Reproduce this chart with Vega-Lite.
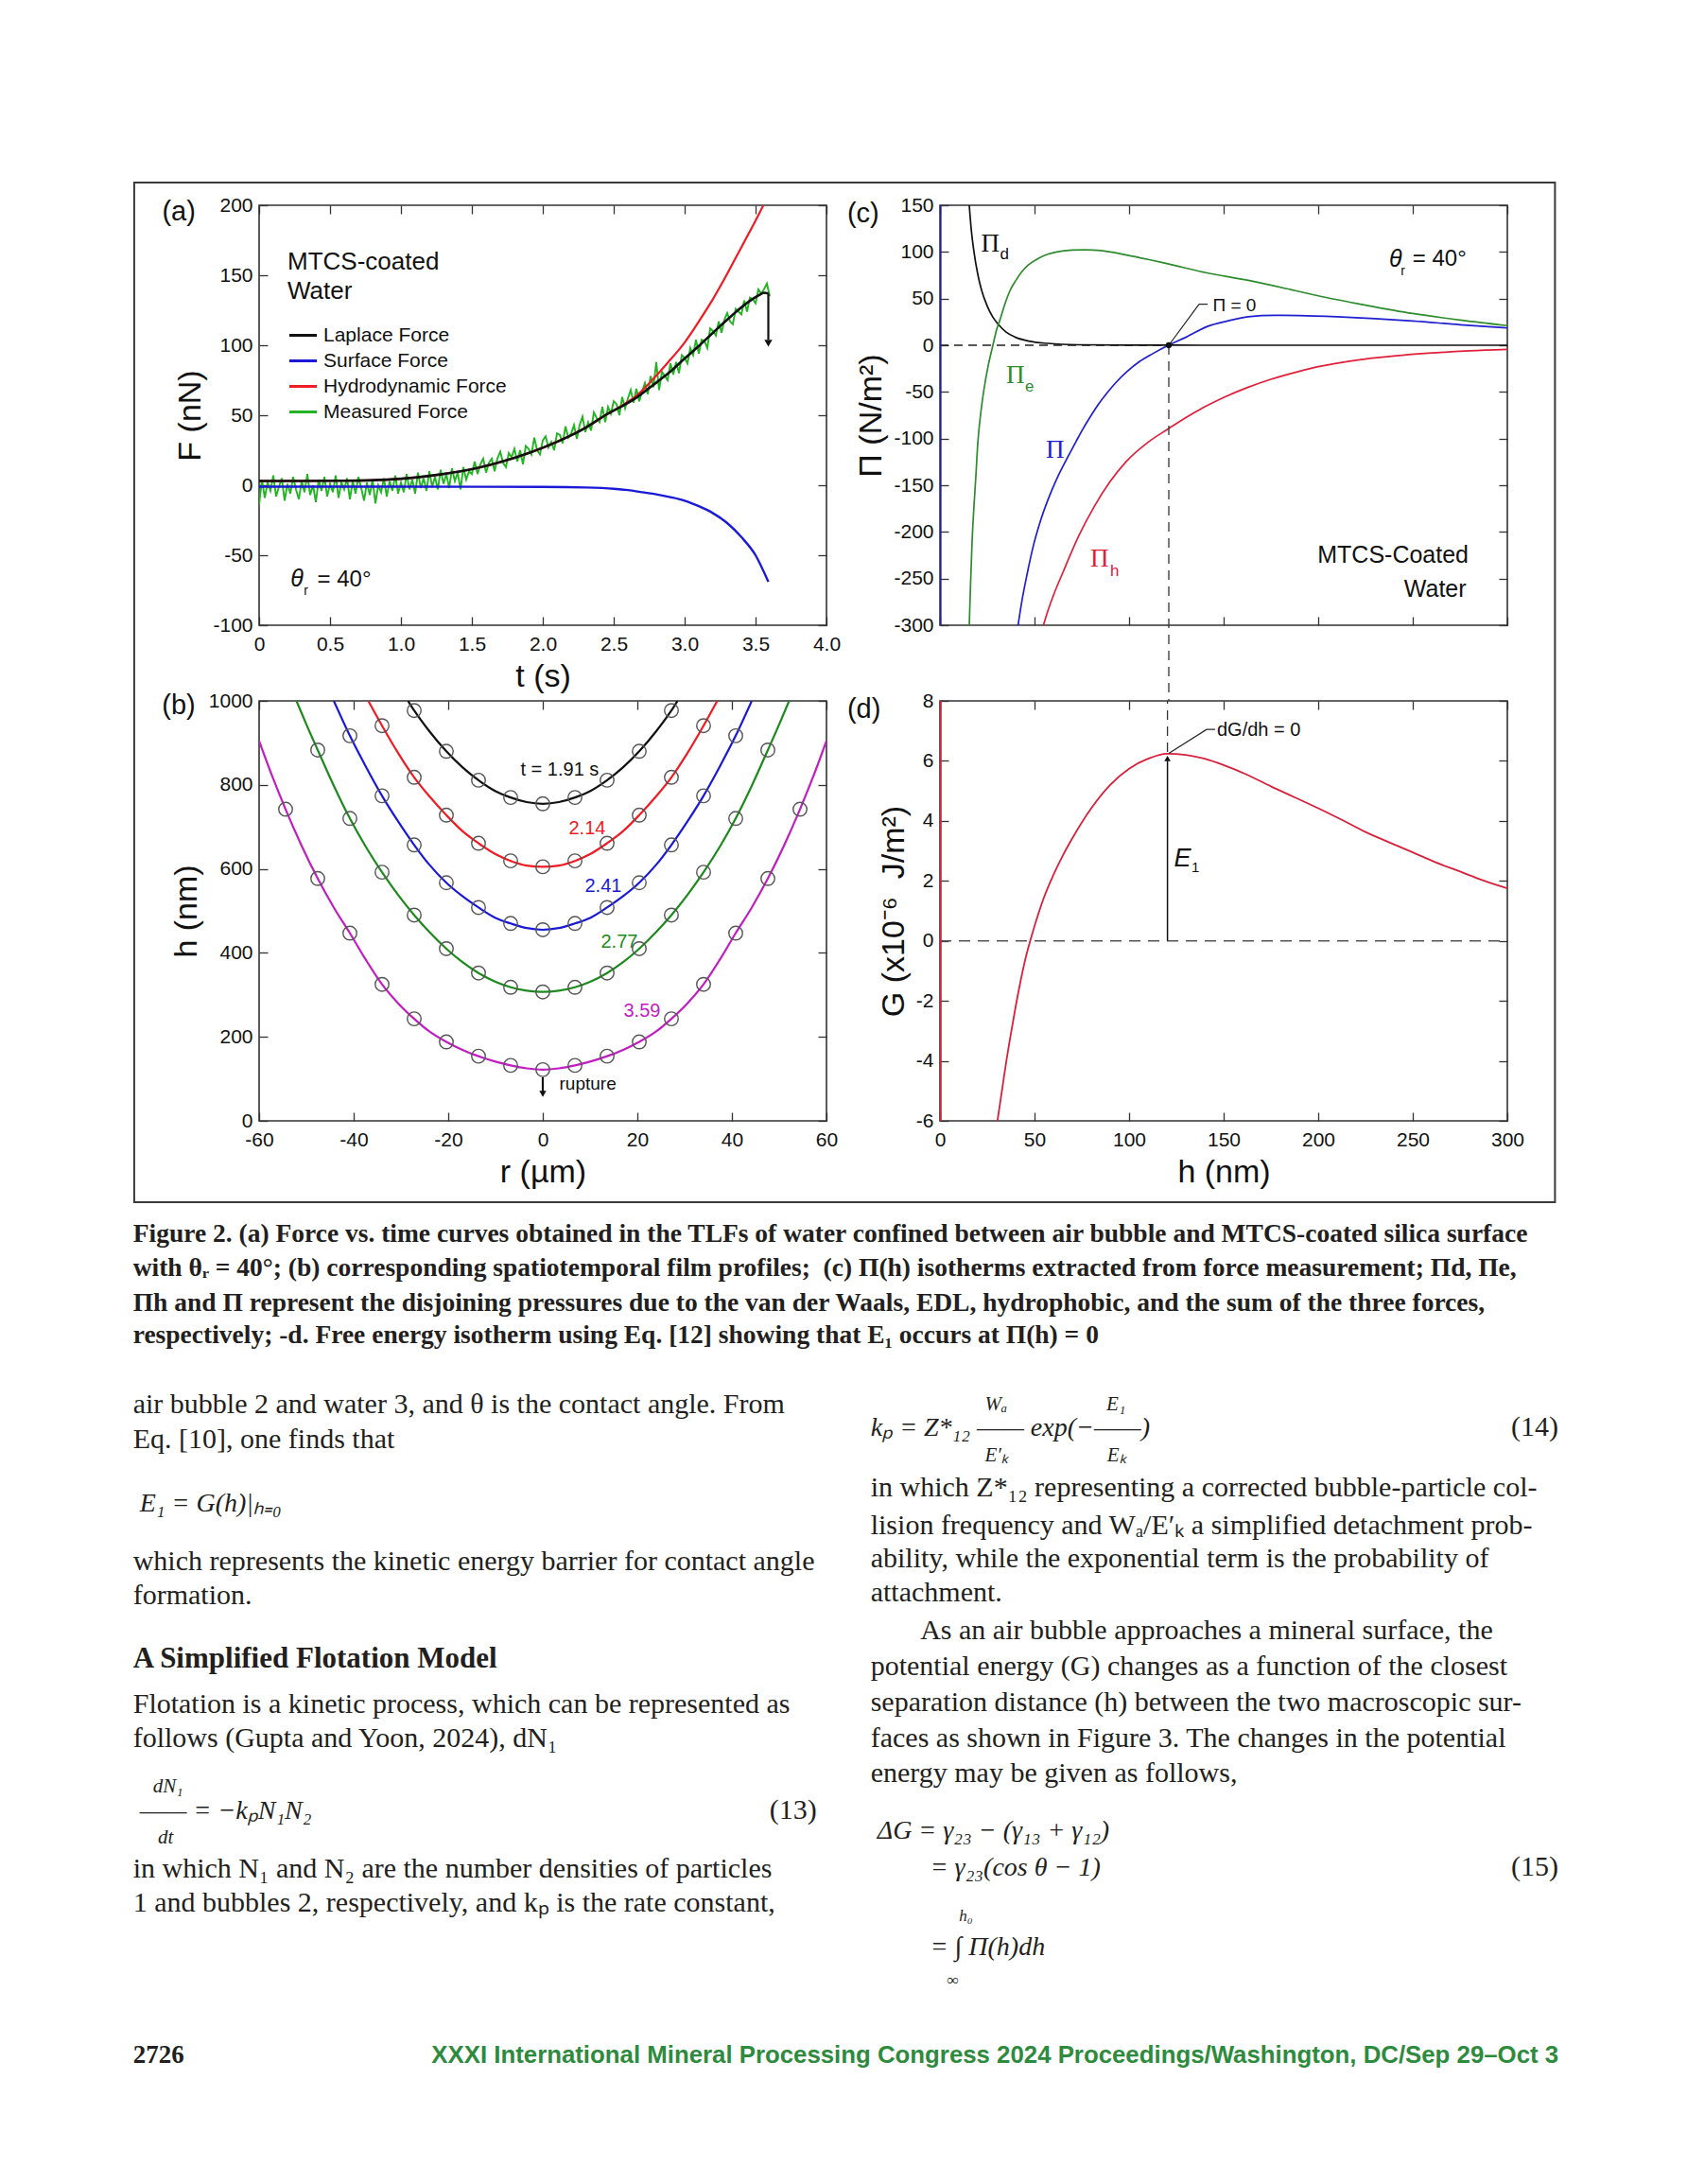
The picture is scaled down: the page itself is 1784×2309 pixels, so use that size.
{
"$schema": "https://vega.github.io/schema/vega-lite/v6.json",
"background": "white",
"padding": {"left": 140, "top": 191, "right": 20, "bottom": 20},
"config": {
  "font": "Liberation Sans",
  "view": {"stroke": "#333333", "strokeWidth": 1.6},
  "axis": {"grid": false, "domain": false, "tickSize": -9, "tickColor": "#333333", "tickWidth": 1.3, "labelFont": "Liberation Sans", "labelFontSize": 21, "labelColor": "#111111", "labelOverlap": false, "labelFlush": false, "titleFont": "Liberation Sans", "titleFontSize": 34, "titleFontWeight": "normal", "titleColor": "#111111"},
  "axisX": {"labelPadding": 18, "titlePadding": 7},
  "axisY": {"labelPadding": 16, "titlePadding": 6},
  "legend": {"orient": "none", "legendX": 30, "legendY": 47, "padding": 0, "titleFontSize": 26, "titleFontWeight": "normal", "titleFont": "Liberation Sans", "titleColor": "#111111", "titleLineHeight": 31, "titlePadding": 17, "labelFontSize": 21, "labelFont": "Liberation Sans", "labelColor": "#111111", "labelLimit": 400, "symbolType": "stroke", "symbolSize": 850, "symbolStrokeWidth": 3, "labelOffset": 5, "rowPadding": 0},
  "text": {"font": "Liberation Sans", "color": "#111111"}
},
"datasets": {
  "aMeas": [
    {"t":0,"F":-14},{"t":0.02,"F":4},{"t":0.04,"F":-9},{"t":0.06,"F":2},{"t":0.08,"F":-4},{"t":0.1,"F":7},{"t":0.12,"F":-8},{"t":0.14,"F":-1},{"t":0.16,"F":5},{"t":0.18,"F":-11},
    {"t":0.2,"F":1},{"t":0.22,"F":-6},{"t":0.24,"F":6},{"t":0.26,"F":-3},{"t":0.28,"F":-10},{"t":0.3,"F":3},{"t":0.32,"F":-5},{"t":0.34,"F":8},{"t":0.36,"F":-7},{"t":0.38,"F":0},
    {"t":0.4,"F":-12},{"t":0.42,"F":4},{"t":0.44,"F":-4},{"t":0.46,"F":6},{"t":0.48,"F":-8},{"t":0.5,"F":1},{"t":0.52,"F":-5},{"t":0.54,"F":7},{"t":0.56,"F":-9},{"t":0.58,"F":2},
    {"t":0.6,"F":-3},{"t":0.62,"F":5},{"t":0.64,"F":-10},{"t":0.66,"F":3},{"t":0.68,"F":-6},{"t":0.7,"F":6},{"t":0.72,"F":-2},{"t":0.74,"F":-11},{"t":0.76,"F":2},{"t":0.78,"F":-7},
    {"t":0.8,"F":4},{"t":0.82,"F":-13},{"t":0.84,"F":0},{"t":0.86,"F":-5},{"t":0.88,"F":5},{"t":0.9,"F":-8},{"t":0.92,"F":3},{"t":0.94,"F":-4},{"t":0.96,"F":7},{"t":0.98,"F":-6},
    {"t":1,"F":2},{"t":1.02,"F":-5},{"t":1.04,"F":8},{"t":1.06,"F":-3},{"t":1.08,"F":4},{"t":1.1,"F":-6},{"t":1.12,"F":9},{"t":1.14,"F":-2},{"t":1.16,"F":5},{"t":1.18,"F":-4},
    {"t":1.2,"F":10},{"t":1.22,"F":-1},{"t":1.24,"F":6},{"t":1.26,"F":-3},{"t":1.28,"F":11},{"t":1.3,"F":1},{"t":1.32,"F":8},{"t":1.34,"F":-2},{"t":1.36,"F":12},{"t":1.38,"F":3},
    {"t":1.4,"F":9},{"t":1.42,"F":-3},{"t":1.44,"F":13},{"t":1.46,"F":4},{"t":1.48,"F":10},{"t":1.5,"F":8},{"t":1.52,"F":17},{"t":1.54,"F":8},{"t":1.56,"F":15},{"t":1.58,"F":19},
    {"t":1.6,"F":9},{"t":1.62,"F":16},{"t":1.64,"F":19},{"t":1.66,"F":10},{"t":1.68,"F":19},{"t":1.7,"F":24},{"t":1.72,"F":16},{"t":1.74,"F":13},{"t":1.76,"F":23},{"t":1.78,"F":20},
    {"t":1.8,"F":26},{"t":1.82,"F":17},{"t":1.84,"F":25},{"t":1.86,"F":15},{"t":1.88,"F":28},{"t":1.9,"F":26},{"t":1.92,"F":22},{"t":1.94,"F":34},{"t":1.96,"F":25},{"t":1.98,"F":22},
    {"t":2,"F":32},{"t":2.02,"F":35},{"t":2.04,"F":27},{"t":2.06,"F":31},{"t":2.08,"F":25},{"t":2.1,"F":37},{"t":2.12,"F":36},{"t":2.14,"F":30},{"t":2.16,"F":42},{"t":2.18,"F":34},
    {"t":2.2,"F":37},{"t":2.22,"F":43},{"t":2.24,"F":33},{"t":2.26,"F":43},{"t":2.28,"F":49},{"t":2.3,"F":38},{"t":2.32,"F":45},{"t":2.34,"F":39},{"t":2.36,"F":52},{"t":2.38,"F":48},
    {"t":2.4,"F":45},{"t":2.42,"F":56},{"t":2.44,"F":45},{"t":2.46,"F":56},{"t":2.48,"F":51},{"t":2.5,"F":60},{"t":2.52,"F":58},{"t":2.54,"F":50},{"t":2.56,"F":63},{"t":2.58,"F":55},
    {"t":2.6,"F":62},{"t":2.62,"F":68},{"t":2.64,"F":59},{"t":2.66,"F":69},{"t":2.68,"F":60},{"t":2.7,"F":67},{"t":2.72,"F":73},{"t":2.74,"F":65},{"t":2.76,"F":78},{"t":2.78,"F":70},
    {"t":2.8,"F":88},{"t":2.82,"F":68},{"t":2.84,"F":81},{"t":2.86,"F":78},{"t":2.88,"F":75},{"t":2.9,"F":87},{"t":2.92,"F":79},{"t":2.94,"F":88},{"t":2.96,"F":80},{"t":2.98,"F":93},
    {"t":3,"F":91},{"t":3.02,"F":87},{"t":3.04,"F":98},{"t":3.06,"F":93},{"t":3.08,"F":104},{"t":3.1,"F":94},{"t":3.12,"F":104},{"t":3.14,"F":103},{"t":3.16,"F":98},{"t":3.18,"F":112},
    {"t":3.2,"F":110},{"t":3.22,"F":107},{"t":3.24,"F":117},{"t":3.26,"F":109},{"t":3.28,"F":118},{"t":3.3,"F":123},{"t":3.32,"F":117},{"t":3.34,"F":115},{"t":3.36,"F":126},{"t":3.38,"F":124},
    {"t":3.4,"F":122},{"t":3.42,"F":132},{"t":3.44,"F":124},{"t":3.46,"F":134},{"t":3.48,"F":133},{"t":3.5,"F":130},{"t":3.52,"F":140},{"t":3.54,"F":137},{"t":3.56,"F":140},{"t":3.58,"F":144},
    {"t":3.6,"F":135}
  ],
  "aLap": [
    {"t":0,"F":3},{"t":0.3,"F":3},{"t":0.6,"F":3.2},{"t":0.9,"F":4},{"t":1.1,"F":5.5},{"t":1.3,"F":8},{"t":1.5,"F":11.5},{"t":1.7,"F":16.5},{"t":1.9,"F":23},{"t":2.1,"F":31},{"t":2.3,"F":41},{"t":2.44,"F":50},{"t":2.55,"F":56},{"t":2.66,"F":62.6},{"t":2.77,"F":71},{"t":2.885,"F":80},{"t":3.0,"F":90.5},{"t":3.106,"F":100},{"t":3.2,"F":109},{"t":3.33,"F":121},{"t":3.45,"F":131},{"t":3.52,"F":135.5},{"t":3.56,"F":137.5},{"t":3.59,"F":137}
  ],
  "aHyd": [
    {"t":0,"F":3},{"t":0.6,"F":3.2},{"t":0.9,"F":4},{"t":1.1,"F":5.5},{"t":1.3,"F":8},{"t":1.5,"F":11.5},{"t":1.7,"F":16.5},{"t":1.9,"F":23},{"t":2.1,"F":31},{"t":2.3,"F":41},{"t":2.44,"F":50},{"t":2.55,"F":56.5},{"t":2.66,"F":64},{"t":2.77,"F":75},{"t":2.885,"F":88},{"t":3.0,"F":102},{"t":3.1,"F":117},{"t":3.2,"F":133},{"t":3.3,"F":151},{"t":3.4,"F":170},{"t":3.5,"F":189},{"t":3.58,"F":205}
  ],
  "aSurf": [
    {"t":0,"F":-1},{"t":1,"F":-1},{"t":2,"F":-1.2},{"t":2.3,"F":-1.6},{"t":2.5,"F":-2.5},{"t":2.6,"F":-3.5},{"t":2.7,"F":-5},{"t":2.8,"F":-6.5},{"t":2.9,"F":-8.5},{"t":3,"F":-11},{"t":3.1,"F":-15},{"t":3.2,"F":-20},{"t":3.3,"F":-27},{"t":3.4,"F":-37},{"t":3.5,"F":-50},{"t":3.59,"F":-69}
  ],
  "prof": [
    {"s":"1.91","r":-28.5,"h":1000,"m":0},{"s":"1.91","r":-27.2,"h":977,"m":1},{"s":"1.91","r":-24,"h":928,"m":0},{"s":"1.91","r":-20.4,"h":880,"m":1},{"s":"1.91","r":-17,"h":842,"m":0},{"s":"1.91","r":-13.6,"h":811,"m":1},{"s":"1.91","r":-10,"h":785,"m":0},{"s":"1.91","r":-6.8,"h":770,"m":1},{"s":"1.91","r":-3.4,"h":759,"m":0},{"s":"1.91","r":0,"h":755,"m":1},{"s":"1.91","r":3.4,"h":759,"m":0},{"s":"1.91","r":6.8,"h":770,"m":1},{"s":"1.91","r":10,"h":785,"m":0},{"s":"1.91","r":13.6,"h":811,"m":1},{"s":"1.91","r":17,"h":842,"m":0},{"s":"1.91","r":20.4,"h":880,"m":1},{"s":"1.91","r":24,"h":928,"m":0},{"s":"1.91","r":27.2,"h":977,"m":1},{"s":"1.91","r":28.5,"h":1000,"m":0},
    {"s":"2.14","r":-36.9,"h":1000,"m":0},{"s":"2.14","r":-34,"h":941,"m":1},{"s":"2.14","r":-30.6,"h":876,"m":0},{"s":"2.14","r":-27.2,"h":818,"m":1},{"s":"2.14","r":-24,"h":773,"m":0},{"s":"2.14","r":-20.4,"h":728,"m":1},{"s":"2.14","r":-17,"h":690,"m":0},{"s":"2.14","r":-13.6,"h":661,"m":1},{"s":"2.14","r":-10,"h":635,"m":0},{"s":"2.14","r":-6.8,"h":619,"m":1},{"s":"2.14","r":-3.4,"h":608,"m":0},{"s":"2.14","r":0,"h":605,"m":1},{"s":"2.14","r":3.4,"h":608,"m":0},{"s":"2.14","r":6.8,"h":619,"m":1},{"s":"2.14","r":10,"h":635,"m":0},{"s":"2.14","r":13.6,"h":661,"m":1},{"s":"2.14","r":17,"h":690,"m":0},{"s":"2.14","r":20.4,"h":728,"m":1},{"s":"2.14","r":24,"h":773,"m":0},{"s":"2.14","r":27.2,"h":818,"m":1},{"s":"2.14","r":30.6,"h":876,"m":0},{"s":"2.14","r":34,"h":941,"m":1},{"s":"2.14","r":36.9,"h":1000,"m":0},
    {"s":"2.41","r":-44.2,"h":1000,"m":0},{"s":"2.41","r":-40.8,"h":917,"m":1},{"s":"2.41","r":-37.4,"h":843,"m":0},{"s":"2.41","r":-34,"h":774,"m":1},{"s":"2.41","r":-30.6,"h":713,"m":0},{"s":"2.41","r":-27.2,"h":657,"m":1},{"s":"2.41","r":-24,"h":610,"m":0},{"s":"2.41","r":-20.4,"h":567,"m":1},{"s":"2.41","r":-17,"h":535,"m":0},{"s":"2.41","r":-13.6,"h":508,"m":1},{"s":"2.41","r":-10,"h":483,"m":0},{"s":"2.41","r":-6.8,"h":470,"m":1},{"s":"2.41","r":-3.4,"h":459,"m":0},{"s":"2.41","r":0,"h":455,"m":1},{"s":"2.41","r":3.4,"h":459,"m":0},{"s":"2.41","r":6.8,"h":470,"m":1},{"s":"2.41","r":10,"h":483,"m":0},{"s":"2.41","r":13.6,"h":508,"m":1},{"s":"2.41","r":17,"h":535,"m":0},{"s":"2.41","r":20.4,"h":567,"m":1},{"s":"2.41","r":24,"h":610,"m":0},{"s":"2.41","r":27.2,"h":657,"m":1},{"s":"2.41","r":30.6,"h":713,"m":0},{"s":"2.41","r":34,"h":774,"m":1},{"s":"2.41","r":37.4,"h":843,"m":0},{"s":"2.41","r":40.8,"h":917,"m":1},{"s":"2.41","r":44.2,"h":1000,"m":0},
    {"s":"2.77","r":-52.1,"h":1000,"m":0},{"s":"2.77","r":-50,"h":944,"m":0},{"s":"2.77","r":-47.6,"h":883,"m":1},{"s":"2.77","r":-44.2,"h":798,"m":0},{"s":"2.77","r":-40.8,"h":720,"m":1},{"s":"2.77","r":-37.4,"h":652,"m":0},{"s":"2.77","r":-34,"h":592,"m":1},{"s":"2.77","r":-30.6,"h":538,"m":0},{"s":"2.77","r":-27.2,"h":490,"m":1},{"s":"2.77","r":-24,"h":450,"m":0},{"s":"2.77","r":-20.4,"h":410,"m":1},{"s":"2.77","r":-17,"h":378,"m":0},{"s":"2.77","r":-13.6,"h":352,"m":1},{"s":"2.77","r":-10,"h":331,"m":0},{"s":"2.77","r":-6.8,"h":318,"m":1},{"s":"2.77","r":-3.4,"h":310,"m":0},{"s":"2.77","r":0,"h":307,"m":1},{"s":"2.77","r":3.4,"h":310,"m":0},{"s":"2.77","r":6.8,"h":318,"m":1},{"s":"2.77","r":10,"h":331,"m":0},{"s":"2.77","r":13.6,"h":352,"m":1},{"s":"2.77","r":17,"h":378,"m":0},{"s":"2.77","r":20.4,"h":410,"m":1},{"s":"2.77","r":24,"h":450,"m":0},{"s":"2.77","r":27.2,"h":490,"m":1},{"s":"2.77","r":30.6,"h":538,"m":0},{"s":"2.77","r":34,"h":592,"m":1},{"s":"2.77","r":37.4,"h":652,"m":0},{"s":"2.77","r":40.8,"h":720,"m":1},{"s":"2.77","r":44.2,"h":798,"m":0},{"s":"2.77","r":47.6,"h":883,"m":1},{"s":"2.77","r":50,"h":944,"m":0},{"s":"2.77","r":52.1,"h":1000,"m":0},
    {"s":"3.59","r":-60,"h":905,"m":0},{"s":"3.59","r":-57.2,"h":820,"m":0},{"s":"3.59","r":-54.4,"h":742,"m":1},{"s":"3.59","r":-51,"h":655,"m":0},{"s":"3.59","r":-47.6,"h":577,"m":1},{"s":"3.59","r":-44.2,"h":508,"m":0},{"s":"3.59","r":-40.8,"h":447,"m":1},{"s":"3.59","r":-37.4,"h":383,"m":0},{"s":"3.59","r":-34,"h":325,"m":1},{"s":"3.59","r":-30.6,"h":280,"m":0},{"s":"3.59","r":-27.2,"h":243,"m":1},{"s":"3.59","r":-24,"h":213,"m":0},{"s":"3.59","r":-20.4,"h":188,"m":1},{"s":"3.59","r":-17,"h":169,"m":0},{"s":"3.59","r":-13.6,"h":154,"m":1},{"s":"3.59","r":-10,"h":141,"m":0},{"s":"3.59","r":-6.8,"h":132,"m":1},{"s":"3.59","r":-3.4,"h":125,"m":0},{"s":"3.59","r":0,"h":122,"m":1},{"s":"3.59","r":3.4,"h":125,"m":0},{"s":"3.59","r":6.8,"h":132,"m":1},{"s":"3.59","r":10,"h":141,"m":0},{"s":"3.59","r":13.6,"h":154,"m":1},{"s":"3.59","r":17,"h":169,"m":0},{"s":"3.59","r":20.4,"h":188,"m":1},{"s":"3.59","r":24,"h":213,"m":0},{"s":"3.59","r":27.2,"h":243,"m":1},{"s":"3.59","r":30.6,"h":280,"m":0},{"s":"3.59","r":34,"h":325,"m":1},{"s":"3.59","r":37.4,"h":383,"m":0},{"s":"3.59","r":40.8,"h":447,"m":1},{"s":"3.59","r":44.2,"h":508,"m":0},{"s":"3.59","r":47.6,"h":577,"m":1},{"s":"3.59","r":51,"h":655,"m":0},{"s":"3.59","r":54.4,"h":742,"m":1},{"s":"3.59","r":57.2,"h":820,"m":0},{"s":"3.59","r":60,"h":905,"m":0}
  ],
  "pi": [
    {"s":"d","h":15.5,"P":150},{"s":"d","h":16.5,"P":125},{"s":"d","h":18,"P":100},{"s":"d","h":20,"P":76},{"s":"d","h":22,"P":59},{"s":"d","h":25,"P":42},{"s":"d","h":28,"P":30},{"s":"d","h":31,"P":22},{"s":"d","h":35,"P":14},{"s":"d","h":40,"P":8.5},{"s":"d","h":47,"P":4.5},{"s":"d","h":57,"P":2},{"s":"d","h":73,"P":0.5},{"s":"d","h":100,"P":0.1},{"s":"d","h":150,"P":0},{"s":"d","h":300,"P":0},
    {"s":"e","h":15.5,"P":-300},{"s":"e","h":16.2,"P":-255},{"s":"e","h":17,"P":-210},{"s":"e","h":18,"P":-172},{"s":"e","h":19,"P":-140},{"s":"e","h":20,"P":-105},{"s":"e","h":21.5,"P":-74},{"s":"e","h":23.3,"P":-47},{"s":"e","h":25.5,"P":-22},{"s":"e","h":28,"P":0},{"s":"e","h":30,"P":17},{"s":"e","h":31.7,"P":27},{"s":"e","h":34,"P":42},{"s":"e","h":36.7,"P":57},{"s":"e","h":40,"P":69},{"s":"e","h":43,"P":78},{"s":"e","h":46.7,"P":86},{"s":"e","h":52,"P":93},{"s":"e","h":57,"P":97.5},{"s":"e","h":61.7,"P":100},{"s":"e","h":70,"P":102},{"s":"e","h":76.7,"P":102.3},{"s":"e","h":85,"P":101.5},{"s":"e","h":98,"P":97},{"s":"e","h":110,"P":92},{"s":"e","h":121,"P":87},{"s":"e","h":140,"P":78},{"s":"e","h":163,"P":69.5},{"s":"e","h":189,"P":58},{"s":"e","h":200,"P":53},{"s":"e","h":225,"P":43},{"s":"e","h":250,"P":34},{"s":"e","h":275,"P":27},{"s":"e","h":300,"P":21},
    {"s":"t","h":41.3,"P":-300},{"s":"t","h":43.5,"P":-272},{"s":"t","h":46,"P":-246},{"s":"t","h":49.5,"P":-214},{"s":"t","h":53.5,"P":-186},{"s":"t","h":58,"P":-161},{"s":"t","h":62.5,"P":-140},{"s":"t","h":67,"P":-122},{"s":"t","h":72,"P":-103},{"s":"t","h":75.5,"P":-90},{"s":"t","h":80,"P":-75},{"s":"t","h":83.5,"P":-64},{"s":"t","h":88,"P":-52},{"s":"t","h":93,"P":-40},{"s":"t","h":99,"P":-28},{"s":"t","h":105.5,"P":-17.5},{"s":"t","h":112.5,"P":-9},{"s":"t","h":120.8,"P":0},{"s":"t","h":130,"P":8.5},{"s":"t","h":141.7,"P":20.4},{"s":"t","h":152,"P":26},{"s":"t","h":163,"P":30.6},{"s":"t","h":177,"P":32},{"s":"t","h":190,"P":31.8},{"s":"t","h":210,"P":30.5},{"s":"t","h":230,"P":28.5},{"s":"t","h":250,"P":26},{"s":"t","h":275,"P":22},{"s":"t","h":300,"P":18.5},
    {"s":"h","h":54.7,"P":-300},{"s":"h","h":57,"P":-285},{"s":"h","h":60,"P":-268},{"s":"h","h":65,"P":-243.5},{"s":"h","h":73.3,"P":-204.6},{"s":"h","h":81.7,"P":-172.4},{"s":"h","h":90,"P":-146},{"s":"h","h":98.3,"P":-125},{"s":"h","h":110,"P":-104},{"s":"h","h":120.8,"P":-89.5},{"s":"h","h":130,"P":-77.5},{"s":"h","h":140,"P":-66},{"s":"h","h":150,"P":-56},{"s":"h","h":163,"P":-45},{"s":"h","h":175,"P":-36.5},{"s":"h","h":189,"P":-28.5},{"s":"h","h":200,"P":-23},{"s":"h","h":220,"P":-16},{"s":"h","h":240,"P":-11.5},{"s":"h","h":260,"P":-8.3},{"s":"h","h":280,"P":-6},{"s":"h","h":300,"P":-4.5},
    {"s":"v","h":0.4,"P":150},{"s":"v","h":0.4,"P":-300}
  ],
  "g": [
    {"h":30.4,"G":-6},{"h":33,"G":-4.9},{"h":35,"G":-4.05},{"h":37.5,"G":-3.1},{"h":40,"G":-2.2},{"h":42.5,"G":-1.38},{"h":45,"G":-0.65},{"h":48.4,"G":0.15},{"h":52,"G":0.9},{"h":55,"G":1.45},{"h":60,"G":2.2},{"h":65,"G":2.85},{"h":70,"G":3.42},{"h":80,"G":4.42},{"h":90,"G":5.2},{"h":100,"G":5.74},{"h":110,"G":6.07},{"h":120,"G":6.24},{"h":130,"G":6.2},{"h":140,"G":6.07},{"h":150,"G":5.86},{"h":162,"G":5.55},{"h":175,"G":5.15},{"h":187,"G":4.8},{"h":200,"G":4.42},{"h":212,"G":4.05},{"h":225,"G":3.63},{"h":237,"G":3.3},{"h":250,"G":2.95},{"h":262,"G":2.62},{"h":275,"G":2.31},{"h":287,"G":2.02},{"h":300,"G":1.75}
  ],
  "txtL": [
    {"k":"cap","a":"s","l":0,"t":"Figure 2. (a) Force vs. time curves obtained in the TLFs of water confined between air bubble and MTCS-coated silica surface"},
    {"k":"cap","a":"s","l":0.99,"t":"with θᵣ = 40°; (b) corresponding spatiotemporal film profiles;\u00a0 (c) Π(h) isotherms extracted from force measurement; Πd, Πe,"},
    {"k":"cap","a":"s","l":2.0,"t":"Πh and Π represent the disjoining pressures due to the van der Waals, EDL, hydrophobic, and the sum of the three forces,"},
    {"k":"cap","a":"s","l":2.96,"t":"respectively; -d. Free energy isotherm using Eq. [12] showing that E₁ occurs at Π(h) = 0"},
    {"k":"body","a":"s","l":5,"t":"air bubble 2 and water 3, and θ is the contact angle. From"},
    {"k":"body","a":"s","l":6,"t":"Eq. [10], one finds that"},
    {"k":"eq","a":"s","l":7.85,"t":"\u200b\u00a0E₁ = G(h)|ₕ₌₀"},
    {"k":"body","a":"s","l":9.55,"t":"which represents the kinetic energy barrier for contact angle"},
    {"k":"body","a":"s","l":10.55,"t":"formation."},
    {"k":"head","a":"s","l":12.4,"t":"A Simplified Flotation Model"},
    {"k":"body","a":"s","l":13.71,"t":"Flotation is a kinetic process, which can be represented as"},
    {"k":"body","a":"s","l":14.71,"t":"follows (Gupta and Yoon, 2024), dN₁"},
    {"k":"eqf","a":"s","l":16.033,"t":"\u200b\u00a0\u00a0\u00a0\u00a0dN₁"},
    {"k":"eq","a":"s","l":16.804,"t":"\u200b\u00a0——\u00a0= −kₚN₁N₂"},
    {"k":"eqf","a":"s","l":17.52,"t":"\u200b\u00a0\u00a0\u00a0\u00a0\u00a0dt"},
    {"k":"num","a":"e","l":16.804,"t":"(13)"},
    {"k":"body","a":"s","l":18.51,"t":"in which N₁ and N₂ are the number densities of particles"},
    {"k":"body","a":"s","l":19.5,"t":"1 and bubbles 2, respectively, and kₚ is the rate constant,"},
    {"k":"pnum","a":"s","l":23.9,"t":"2726"}
  ],
  "txtR": [
    {"k":"eqf","a":"s","l":4.904,"t":"\u200b\u00a0\u00a0\u00a0\u00a0\u00a0\u00a0\u00a0\u00a0\u00a0\u00a0\u00a0\u00a0\u00a0\u00a0\u00a0\u00a0\u00a0\u00a0\u00a0\u00a0\u00a0\u00a0\u00a0Wₐ\u00a0\u00a0\u00a0\u00a0\u00a0\u00a0\u00a0\u00a0\u00a0\u00a0\u00a0\u00a0\u00a0\u00a0\u00a0\u00a0\u00a0\u00a0\u00a0\u00a0E₁"},
    {"k":"eq","a":"s","l":5.647,"t":"kₚ = Z*₁₂ —— exp(−——)"},
    {"k":"eqf","a":"s","l":6.391,"t":"\u200b\u00a0\u00a0\u00a0\u00a0\u00a0\u00a0\u00a0\u00a0\u00a0\u00a0\u00a0\u00a0\u00a0\u00a0\u00a0\u00a0\u00a0\u00a0\u00a0\u00a0\u00a0\u00a0\u00a0E′ₖ\u00a0\u00a0\u00a0\u00a0\u00a0\u00a0\u00a0\u00a0\u00a0\u00a0\u00a0\u00a0\u00a0\u00a0\u00a0\u00a0\u00a0\u00a0\u00a0\u00a0Eₖ"},
    {"k":"num","a":"e","l":5.647,"t":"(14)"},
    {"k":"body","a":"s","l":7.40,"t":"in which Z*₁₂ representing a corrected bubble-particle col-"},
    {"k":"body","a":"s","l":8.50,"t":"lision frequency and Wₐ/E′ₖ a simplified detachment prob-"},
    {"k":"body","a":"s","l":9.48,"t":"ability, while the exponential term is the probability of"},
    {"k":"body","a":"s","l":10.47,"t":"attachment."},
    {"k":"body","a":"s","l":11.57,"t":"\u200b\u00a0\u00a0\u00a0\u00a0\u00a0\u00a0\u00a0As an air bubble approaches a mineral surface, the"},
    {"k":"body","a":"s","l":12.62,"t":"potential energy (G) changes as a function of the closest"},
    {"k":"body","a":"s","l":13.66,"t":"separation distance (h) between the two macroscopic sur-"},
    {"k":"body","a":"s","l":14.70,"t":"faces as shown in Figure 3. The changes in the potential"},
    {"k":"body","a":"s","l":15.74,"t":"energy may be given as follows,"},
    {"k":"eq","a":"s","l":17.37,"t":"\u200b\u00a0ΔG = γ₂₃ − (γ₁₃ + γ₁₂)"},
    {"k":"eq","a":"s","l":18.47,"t":"\u200b\u00a0\u00a0\u00a0\u00a0\u00a0\u00a0\u00a0\u00a0\u00a0= γ₂₃(cos θ − 1)"},
    {"k":"num","a":"e","l":18.47,"t":"(15)"},
    {"k":"eqs","a":"s","l":19.78,"t":"\u200b\u00a0\u00a0\u00a0\u00a0\u00a0\u00a0\u00a0\u00a0\u00a0\u00a0\u00a0\u00a0\u00a0\u00a0\u00a0\u00a0\u00a0\u00a0\u00a0\u00a0\u00a0\u00a0h₀"},
    {"k":"eq","a":"s","l":20.77,"t":"\u200b\u00a0\u00a0\u00a0\u00a0\u00a0\u00a0\u00a0\u00a0\u00a0= ∫ Π(h)dh"},
    {"k":"eqs","a":"s","l":21.65,"t":"\u200b\u00a0\u00a0\u00a0\u00a0\u00a0\u00a0\u00a0\u00a0\u00a0\u00a0\u00a0\u00a0\u00a0\u00a0\u00a0\u00a0\u00a0\u00a0\u00a0∞"},
    {"k":"foot","a":"e","l":23.9,"t":"XXXI International Mineral Processing Congress 2024 Proceedings/Washington, DC/Sep 29–Oct 3"}
  ]
},
"concat": [
  {
    "width": 600, "height": 444,
    "resolve": {"axis": {"x": "independent", "y": "independent"}},
    "layer": [
      {"data": {"values": [{}]}, "mark": {"type": "rect", "fill": "transparent", "stroke": "#3a3a3a", "strokeWidth": 2, "clip": false},
       "encoding": {"x": {"datum": -0.8805, "type": "quantitative", "axis": null}, "x2": {"datum": 9.136}, "y": {"datum": 216.2, "type": "quantitative", "axis": null}, "y2": {"datum": -512.2}}},
      {"data": {"name": "aMeas"}, "mark": {"type": "line", "strokeWidth": 1.9, "clip": true},
       "encoding": {
         "x": {"field": "t", "type": "quantitative", "scale": {"domain": [0, 4], "nice": false, "zero": false}, "axis": {"values": [0,0.5,1,1.5,2,2.5,3,3.5,4], "labelExpr": "datum.value == 0 ? '0' : format(datum.value, '.1f')", "title": "t (s)"}},
         "y": {"field": "F", "type": "quantitative", "scale": {"domain": [-100, 200], "nice": false, "zero": false}, "axis": {"values": [-100,-50,0,50,100,150,200], "labelExpr": "replace(datum.label, '\u2212', '-')", "title": "F (nN)"}},
         "color": {"datum": "Measured Force", "type": "nominal", "scale": {"domain": ["Laplace Force","Surface Force","Hydrodynamic Force","Measured Force"], "range": ["#111111","#1a1ad6","#ee1c24","#22b422"]}, "legend": {"title": ["MTCS-coated","Water"]}}}},
      {"data": {"name": "aHyd"}, "mark": {"type": "line", "strokeWidth": 2.2, "clip": true, "interpolate": "monotone"},
       "encoding": {"x": {"field": "t", "type": "quantitative", "axis": null}, "y": {"field": "F", "type": "quantitative", "axis": null}, "color": {"datum": "Hydrodynamic Force", "type": "nominal", "legend": {"title": ["MTCS-coated","Water"]}}}},
      {"data": {"name": "aSurf"}, "mark": {"type": "line", "strokeWidth": 2.4, "clip": true, "interpolate": "monotone"},
       "encoding": {"x": {"field": "t", "type": "quantitative", "axis": null}, "y": {"field": "F", "type": "quantitative", "axis": null}, "color": {"datum": "Surface Force", "type": "nominal", "legend": {"title": ["MTCS-coated","Water"]}}}},
      {"data": {"name": "aLap"}, "mark": {"type": "line", "strokeWidth": 2.6, "clip": true, "interpolate": "monotone"},
       "encoding": {"x": {"field": "t", "type": "quantitative", "axis": null}, "y": {"field": "F", "type": "quantitative", "axis": null}, "color": {"datum": "Laplace Force", "type": "nominal", "legend": {"title": ["MTCS-coated","Water"]}}}},
      {"data": {"values": [{}]}, "mark": {"type": "rule", "color": "#111111", "strokeWidth": 2.2},
       "encoding": {"x": {"datum": 3.59, "type": "quantitative", "axis": null}, "y": {"datum": 137, "type": "quantitative", "axis": null}, "y2": {"datum": 104}}},
      {"data": {"values": [{}]}, "mark": {"type": "point", "shape": "triangle-down", "filled": true, "color": "#111111", "size": 70, "opacity": 1},
       "encoding": {"x": {"datum": 3.59, "type": "quantitative", "axis": null}, "y": {"datum": 101.5, "type": "quantitative", "axis": null}}},
      {"data": {"values": [{}]}, "mark": {"type": "text", "text": "(a)", "fontSize": 29, "align": "center", "baseline": "middle"},
       "encoding": {"x": {"datum": -0.566, "type": "quantitative", "axis": null}, "y": {"datum": 195.3, "type": "quantitative", "axis": null}}},
      {"data": {"values": [{}]}, "mark": {"type": "text", "text": "θ", "fontSize": 25, "fontStyle": "italic", "align": "left", "baseline": "alphabetic"},
       "encoding": {"x": {"datum": 0.222, "type": "quantitative", "axis": null}, "y": {"datum": -72.5, "type": "quantitative", "axis": null}}},
      {"data": {"values": [{}]}, "mark": {"type": "text", "text": "r", "fontSize": 14, "align": "left", "baseline": "alphabetic"},
       "encoding": {"x": {"datum": 0.315, "type": "quantitative", "axis": null}, "y": {"datum": -78.6, "type": "quantitative", "axis": null}}},
      {"data": {"values": [{}]}, "mark": {"type": "text", "text": "= 40°", "fontSize": 24, "align": "left", "baseline": "alphabetic"},
       "encoding": {"x": {"datum": 0.41, "type": "quantitative", "axis": null}, "y": {"datum": -72.3, "type": "quantitative", "axis": null}}},
      {"data": {"name": "aLap"}, "mark": {"type": "point", "opacity": 0},
       "encoding": {"x": {"field": "t", "type": "quantitative", "axis": {"orient": "top", "labels": false, "title": null, "values": [0,0.5,1,1.5,2,2.5,3,3.5,4]}}, "y": {"field": "F", "type": "quantitative", "axis": {"orient": "right", "labels": false, "title": null, "values": [-100,-50,0,50,100,150,200]}}}}
    ]
  },
  {
    "width": 600, "height": 444,
    "resolve": {"axis": {"x": "independent", "y": "independent"}},
    "layer": [
      {"data": {"values": [{}]}, "mark": {"type": "rule", "color": "#222222", "strokeWidth": 1.3, "strokeDash": [9, 6]},
       "encoding": {"x": {"datum": 0, "type": "quantitative", "axis": null}, "x2": {"datum": 121}, "y": {"datum": 0, "type": "quantitative", "axis": null}}},
      {"data": {"name": "pi"}, "mark": {"type": "line", "strokeWidth": 1.7, "clip": true, "interpolate": "monotone"},
       "encoding": {
         "x": {"field": "h", "type": "quantitative", "scale": {"domain": [0, 300], "nice": false, "zero": false}, "axis": {"values": [0,50,100,150,200,250,300], "labels": false, "title": null}},
         "y": {"field": "P", "type": "quantitative", "scale": {"domain": [-300, 150], "nice": false, "zero": false}, "axis": {"values": [-300,-250,-200,-150,-100,-50,0,50,100,150], "labelExpr": "replace(datum.label, '\u2212', '-')", "title": "Π (N/m²)"}},
         "color": {"field": "s", "type": "nominal", "scale": {"domain": ["d","e","t","h","v"], "range": ["#111111","#2e8b2e","#1f1fd0","#e0203a","#22229a"]}, "legend": null}}},
      {"data": {"values": [{}]}, "mark": {"type": "rule", "color": "#333333", "strokeWidth": 1.3, "strokeDash": [10, 7], "clip": false},
       "encoding": {"x": {"datum": 121, "type": "quantitative", "axis": null}, "y": {"datum": 0, "type": "quantitative", "axis": null}, "y2": {"datum": -381}}},
      {"data": {"values": [{}]}, "mark": {"type": "rule", "color": "#222222", "strokeWidth": 1.2},
       "encoding": {"x": {"datum": 121, "type": "quantitative", "axis": null}, "y": {"datum": 0, "type": "quantitative", "axis": null}, "x2": {"datum": 137}, "y2": {"datum": 44}}},
      {"data": {"values": [{}]}, "mark": {"type": "rule", "color": "#222222", "strokeWidth": 1.2},
       "encoding": {"x": {"datum": 137, "type": "quantitative", "axis": null}, "y": {"datum": 44, "type": "quantitative", "axis": null}, "x2": {"datum": 141.5}}},
      {"data": {"values": [{}]}, "mark": {"type": "point", "filled": true, "color": "#111111", "size": 40, "opacity": 1},
       "encoding": {"x": {"datum": 121, "type": "quantitative", "axis": null}, "y": {"datum": 0, "type": "quantitative", "axis": null}}},
      {"data": {"values": [{"s":"d","h":21.7,"P":100.3},{"s":"e","h":35,"P":-40.9},{"s":"t","h":56,"P":-120.9},{"s":"h","h":79.5,"P":-237.5}]},
       "mark": {"type": "text", "text": "Π", "font": "Liberation Serif", "fontSize": 27, "align": "left", "baseline": "alphabetic"},
       "encoding": {"x": {"field": "h", "type": "quantitative", "axis": null}, "y": {"field": "P", "type": "quantitative", "axis": null}, "color": {"field": "s", "type": "nominal", "legend": null}}},
      {"data": {"values": [{"s":"d","h":31.7,"P":91.9,"sub":"d"},{"s":"e","h":45,"P":-50,"sub":"e"},{"s":"h","h":90,"P":-247.6,"sub":"h"}]},
       "mark": {"type": "text", "fontSize": 17, "align": "left", "baseline": "alphabetic"},
       "encoding": {"x": {"field": "h", "type": "quantitative", "axis": null}, "y": {"field": "P", "type": "quantitative", "axis": null}, "text": {"field": "sub"}, "color": {"field": "s", "type": "nominal", "legend": null}}},
      {"data": {"values": [{}]}, "mark": {"type": "text", "text": "Π = 0", "fontSize": 19, "align": "left", "baseline": "alphabetic"},
       "encoding": {"x": {"datum": 144.2, "type": "quantitative", "axis": null}, "y": {"datum": 36.2, "type": "quantitative", "axis": null}}},
      {"data": {"values": [{}]}, "mark": {"type": "text", "text": "θ", "fontSize": 25, "fontStyle": "italic", "align": "left", "baseline": "alphabetic"},
       "encoding": {"x": {"datum": 237.5, "type": "quantitative", "axis": null}, "y": {"datum": 83.8, "type": "quantitative", "axis": null}}},
      {"data": {"values": [{}]}, "mark": {"type": "text", "text": "r", "fontSize": 14, "align": "left", "baseline": "alphabetic"},
       "encoding": {"x": {"datum": 243.6, "type": "quantitative", "axis": null}, "y": {"datum": 75.1, "type": "quantitative", "axis": null}}},
      {"data": {"values": [{}]}, "mark": {"type": "text", "text": "= 40°", "fontSize": 24, "align": "left", "baseline": "alphabetic"},
       "encoding": {"x": {"datum": 249.9, "type": "quantitative", "axis": null}, "y": {"datum": 84.9, "type": "quantitative", "axis": null}}},
      {"data": {"values": [{}]}, "mark": {"type": "text", "text": "MTCS-Coated", "fontSize": 25, "align": "right", "baseline": "alphabetic"},
       "encoding": {"x": {"datum": 279.5, "type": "quantitative", "axis": null}, "y": {"datum": -232.7, "type": "quantitative", "axis": null}}},
      {"data": {"values": [{}]}, "mark": {"type": "text", "text": "Water", "fontSize": 25, "align": "right", "baseline": "alphabetic"},
       "encoding": {"x": {"datum": 278.3, "type": "quantitative", "axis": null}, "y": {"datum": -269.3, "type": "quantitative", "axis": null}}},
      {"data": {"values": [{}]}, "mark": {"type": "text", "text": "(c)", "fontSize": 29, "align": "center", "baseline": "middle"},
       "encoding": {"x": {"datum": -40.6, "type": "quantitative", "axis": null}, "y": {"datum": 140.9, "type": "quantitative", "axis": null}}},
      {"data": {"name": "g"}, "mark": {"type": "point", "opacity": 0},
       "encoding": {"x": {"field": "h", "type": "quantitative", "axis": {"orient": "top", "labels": false, "title": null, "values": [0,50,100,150,200,250,300]}}, "y": {"field": "G", "type": "quantitative", "axis": {"orient": "right", "labels": false, "title": null, "values": [-300,-250,-200,-150,-100,-50,0,50,100,150]}}}}
    ]
  },
  {
    "width": 600, "height": 444,
    "resolve": {"axis": {"x": "independent", "y": "independent"}},
    "layer": [
      {"data": {"name": "prof"}, "mark": {"type": "line", "strokeWidth": 2.2, "interpolate": "monotone", "clip": true},
       "encoding": {
         "x": {"field": "r", "type": "quantitative", "scale": {"domain": [-60, 60], "nice": false, "zero": false}, "axis": {"values": [-60,-40,-20,0,20,40,60], "labelExpr": "replace(datum.label, '\u2212', '-')", "title": "r (µm)"}},
         "y": {"field": "h", "type": "quantitative", "scale": {"domain": [0, 1000], "nice": false, "zero": false}, "axis": {"values": [0,200,400,600,800,1000], "format": "d", "title": "h (nm)"}},
         "color": {"field": "s", "type": "nominal", "scale": {"domain": ["1.91","2.14","2.41","2.77","3.59"], "range": ["#111111","#ee1c24","#1a1ad6","#1d8a1d","#c01ec0"]}, "legend": null}}},
      {"data": {"name": "prof"}, "transform": [{"filter": "datum.m == 1"}], "mark": {"type": "point", "shape": "circle", "filled": false, "color": "#555555", "size": 210, "strokeWidth": 1.4, "opacity": 1},
       "encoding": {"x": {"field": "r", "type": "quantitative", "axis": null}, "y": {"field": "h", "type": "quantitative", "axis": null}}},
      {"data": {"values": [{"s":"1.91","r":-4.7,"h":835,"lab":"t = 1.91 s"},{"s":"2.14","r":5.5,"h":696,"lab":"2.14"},{"s":"2.41","r":8.9,"h":559,"lab":"2.41"},{"s":"2.77","r":12.3,"h":426,"lab":"2.77"},{"s":"3.59","r":17.1,"h":261,"lab":"3.59"}]},
       "mark": {"type": "text", "fontSize": 20, "align": "left", "baseline": "middle"},
       "encoding": {"x": {"field": "r", "type": "quantitative", "axis": null}, "y": {"field": "h", "type": "quantitative", "axis": null}, "text": {"field": "lab"}, "color": {"field": "s", "type": "nominal", "legend": null}}},
      {"data": {"values": [{}]}, "mark": {"type": "rule", "color": "#111111", "strokeWidth": 2.2},
       "encoding": {"x": {"datum": 0, "type": "quantitative", "axis": null}, "y": {"datum": 104, "type": "quantitative", "axis": null}, "y2": {"datum": 68}}},
      {"data": {"values": [{}]}, "mark": {"type": "point", "shape": "triangle-down", "filled": true, "color": "#111111", "size": 55, "opacity": 1},
       "encoding": {"x": {"datum": 0, "type": "quantitative", "axis": null}, "y": {"datum": 64, "type": "quantitative", "axis": null}}},
      {"data": {"values": [{}]}, "mark": {"type": "text", "text": "rupture", "fontSize": 19, "align": "left", "baseline": "middle"},
       "encoding": {"x": {"datum": 3.5, "type": "quantitative", "axis": null}, "y": {"datum": 87, "type": "quantitative", "axis": null}}},
      {"data": {"values": [{}]}, "mark": {"type": "text", "text": "(b)", "fontSize": 29, "align": "center", "baseline": "middle"},
       "encoding": {"x": {"datum": -77, "type": "quantitative", "axis": null}, "y": {"datum": 989, "type": "quantitative", "axis": null}}},
      {"data": {"name": "prof"}, "mark": {"type": "point", "opacity": 0},
       "encoding": {"x": {"field": "r", "type": "quantitative", "axis": {"orient": "top", "labels": false, "title": null, "values": [-60,-40,-20,0,20,40,60]}}, "y": {"field": "h", "type": "quantitative", "axis": {"orient": "right", "labels": false, "title": null, "values": [0,200,400,600,800,1000]}}}}
    ]
  },
  {
    "width": 600, "height": 444,
    "resolve": {"axis": {"x": "independent", "y": "independent"}},
    "layer": [
      {"data": {"values": [{}]}, "mark": {"type": "rule", "color": "#555555", "strokeWidth": 1.4, "strokeDash": [12, 8]},
       "encoding": {"x": {"datum": 0, "type": "quantitative", "axis": null}, "x2": {"datum": 300}, "y": {"datum": 0, "type": "quantitative", "axis": null}}},
      {"data": {"values": [{}]}, "mark": {"type": "rule", "color": "#d8203a", "strokeWidth": 2},
       "encoding": {"x": {"datum": 0.4, "type": "quantitative", "axis": null}, "y": {"datum": -6, "type": "quantitative", "axis": null}, "y2": {"datum": 8}}},
      {"data": {"name": "g"}, "mark": {"type": "line", "color": "#d8203a", "strokeWidth": 1.8, "clip": true, "interpolate": "monotone"},
       "encoding": {
         "x": {"field": "h", "type": "quantitative", "scale": {"domain": [0, 300], "nice": false, "zero": false}, "axis": {"values": [0,50,100,150,200,250,300], "title": "h (nm)"}},
         "y": {"field": "G", "type": "quantitative", "scale": {"domain": [-6, 8], "nice": false, "zero": false}, "axis": {"values": [-6,-4,-2,0,2,4,6,8], "labelExpr": "replace(datum.label, '\u2212', '-')", "title": "G (x10⁻⁶\u00a0\u00a0J/m²)"}}}},
      {"data": {"values": [{}]}, "mark": {"type": "rule", "color": "#333333", "strokeWidth": 1.3, "strokeDash": [10, 7]},
       "encoding": {"x": {"datum": 120.3, "type": "quantitative", "axis": null}, "y": {"datum": 6.3, "type": "quantitative", "axis": null}, "y2": {"datum": 8}}},
      {"data": {"values": [{}]}, "mark": {"type": "rule", "color": "#111111", "strokeWidth": 1.5},
       "encoding": {"x": {"datum": 120.3, "type": "quantitative", "axis": null}, "y": {"datum": 0, "type": "quantitative", "axis": null}, "y2": {"datum": 6.0}}},
      {"data": {"values": [{}]}, "mark": {"type": "point", "shape": "triangle-up", "filled": true, "color": "#111111", "size": 45, "opacity": 1},
       "encoding": {"x": {"datum": 120.3, "type": "quantitative", "axis": null}, "y": {"datum": 6.08, "type": "quantitative", "axis": null}}},
      {"data": {"values": [{}]}, "mark": {"type": "rule", "color": "#222222", "strokeWidth": 1.2},
       "encoding": {"x": {"datum": 121, "type": "quantitative", "axis": null}, "y": {"datum": 6.25, "type": "quantitative", "axis": null}, "x2": {"datum": 141}, "y2": {"datum": 7.05}}},
      {"data": {"values": [{}]}, "mark": {"type": "rule", "color": "#222222", "strokeWidth": 1.2},
       "encoding": {"x": {"datum": 141, "type": "quantitative", "axis": null}, "y": {"datum": 7.05, "type": "quantitative", "axis": null}, "x2": {"datum": 145.5}}},
      {"data": {"values": [{}]}, "mark": {"type": "text", "text": "dG/dh = 0", "fontSize": 20, "align": "left", "baseline": "middle"},
       "encoding": {"x": {"datum": 146.5, "type": "quantitative", "axis": null}, "y": {"datum": 7.02, "type": "quantitative", "axis": null}}},
      {"data": {"values": [{}]}, "mark": {"type": "text", "text": "E", "fontSize": 27, "fontStyle": "italic", "align": "left", "baseline": "alphabetic"},
       "encoding": {"x": {"datum": 123.8, "type": "quantitative", "axis": null}, "y": {"datum": 2.49, "type": "quantitative", "axis": null}}},
      {"data": {"values": [{}]}, "mark": {"type": "text", "text": "1", "fontSize": 15, "align": "left", "baseline": "alphabetic"},
       "encoding": {"x": {"datum": 133, "type": "quantitative", "axis": null}, "y": {"datum": 2.3, "type": "quantitative", "axis": null}}},
      {"data": {"values": [{}]}, "mark": {"type": "text", "text": "(d)", "fontSize": 29, "align": "center", "baseline": "middle"},
       "encoding": {"x": {"datum": -40.2, "type": "quantitative", "axis": null}, "y": {"datum": 7.73, "type": "quantitative", "axis": null}}},
      {"data": {"name": "g"}, "mark": {"type": "point", "opacity": 0},
       "encoding": {"x": {"field": "h", "type": "quantitative", "axis": {"orient": "top", "labels": false, "title": null, "values": [0,50,100,150,200,250,300]}}, "y": {"field": "G", "type": "quantitative", "axis": {"orient": "right", "labels": false, "title": null, "values": [-6,-4,-2,0,2,4,6,8]}}}}
    ]
  },
  {
    "width": 600, "height": 925,
    "view": {"stroke": null},
    "data": {"name": "txtL"},
    "encoding": {
      "x": {"field": "a", "type": "nominal", "scale": {"type": "point", "domain": ["s","e"], "range": [-133.3, 589.7], "padding": 0}, "axis": null},
      "y": {"field": "l", "type": "quantitative", "scale": {"domain": [-1.3223, 24.1598], "reverse": true, "nice": false, "zero": false}, "axis": null},
      "text": {"field": "t", "type": "nominal"}
    },
    "layer": [
      {"transform": [{"filter": "datum.k == 'cap'"}], "mark": {"type": "text", "align": "left", "baseline": "alphabetic", "font": "Liberation Serif", "fontWeight": "bold", "fontSize": 27.5, "color": "#231f20"}},
      {"transform": [{"filter": "datum.k == 'body'"}], "mark": {"type": "text", "align": "left", "baseline": "alphabetic", "font": "Liberation Serif", "fontSize": 30, "color": "#231f20"}},
      {"transform": [{"filter": "datum.k == 'head'"}], "mark": {"type": "text", "align": "left", "baseline": "alphabetic", "font": "Liberation Serif", "fontWeight": "bold", "fontSize": 31, "color": "#231f20"}},
      {"transform": [{"filter": "datum.k == 'eq'"}], "mark": {"type": "text", "align": "left", "baseline": "alphabetic", "font": "Liberation Serif", "fontStyle": "italic", "fontSize": 28, "color": "#231f20"}},
      {"transform": [{"filter": "datum.k == 'eqf'"}], "mark": {"type": "text", "align": "left", "baseline": "alphabetic", "font": "Liberation Serif", "fontStyle": "italic", "fontSize": 21, "color": "#231f20"}},
      {"transform": [{"filter": "datum.k == 'eqs'"}], "mark": {"type": "text", "align": "left", "baseline": "alphabetic", "font": "Liberation Serif", "fontStyle": "italic", "fontSize": 17, "color": "#231f20"}},
      {"transform": [{"filter": "datum.k == 'num'"}], "mark": {"type": "text", "align": "right", "baseline": "alphabetic", "font": "Liberation Serif", "fontSize": 30, "color": "#231f20"}},
      {"transform": [{"filter": "datum.k == 'pnum'"}], "mark": {"type": "text", "align": "left", "baseline": "alphabetic", "font": "Liberation Serif", "fontWeight": "bold", "fontSize": 27, "color": "#231f20"}},
      {"transform": [{"filter": "datum.k == 'foot'"}], "mark": {"type": "text", "align": "right", "baseline": "alphabetic", "font": "Liberation Sans", "fontWeight": "bold", "fontSize": 25.8, "color": "#2e8b3e"}}
    ]
  },
  {
    "width": 600, "height": 925,
    "view": {"stroke": null},
    "data": {"name": "txtR"},
    "encoding": {
      "x": {"field": "a", "type": "nominal", "scale": {"type": "point", "domain": ["s","e"], "range": [-73.3, 654.1], "padding": 0}, "axis": null},
      "y": {"field": "l", "type": "quantitative", "scale": {"domain": [-1.3223, 24.1598], "reverse": true, "nice": false, "zero": false}, "axis": null},
      "text": {"field": "t", "type": "nominal"}
    },
    "layer": [
      {"transform": [{"filter": "datum.k == 'body'"}], "mark": {"type": "text", "align": "left", "baseline": "alphabetic", "font": "Liberation Serif", "fontSize": 30, "color": "#231f20"}},
      {"transform": [{"filter": "datum.k == 'eq'"}], "mark": {"type": "text", "align": "left", "baseline": "alphabetic", "font": "Liberation Serif", "fontStyle": "italic", "fontSize": 28, "color": "#231f20"}},
      {"transform": [{"filter": "datum.k == 'eqf'"}], "mark": {"type": "text", "align": "left", "baseline": "alphabetic", "font": "Liberation Serif", "fontStyle": "italic", "fontSize": 21, "color": "#231f20"}},
      {"transform": [{"filter": "datum.k == 'eqs'"}], "mark": {"type": "text", "align": "left", "baseline": "alphabetic", "font": "Liberation Serif", "fontStyle": "italic", "fontSize": 17, "color": "#231f20"}},
      {"transform": [{"filter": "datum.k == 'num'"}], "mark": {"type": "text", "align": "right", "baseline": "alphabetic", "font": "Liberation Serif", "fontSize": 30, "color": "#231f20"}},
      {"transform": [{"filter": "datum.k == 'foot'"}], "mark": {"type": "text", "align": "right", "baseline": "alphabetic", "font": "Liberation Sans", "fontWeight": "bold", "fontSize": 25.8, "color": "#2e8b3e"}}
    ]
  }
],
"columns": 2,
"spacing": {"row": 80, "column": 120},
"bounds": "flush",
"align": "each",
"resolve": {"scale": {"color": "independent"}, "legend": {"color": "independent"}}
}
